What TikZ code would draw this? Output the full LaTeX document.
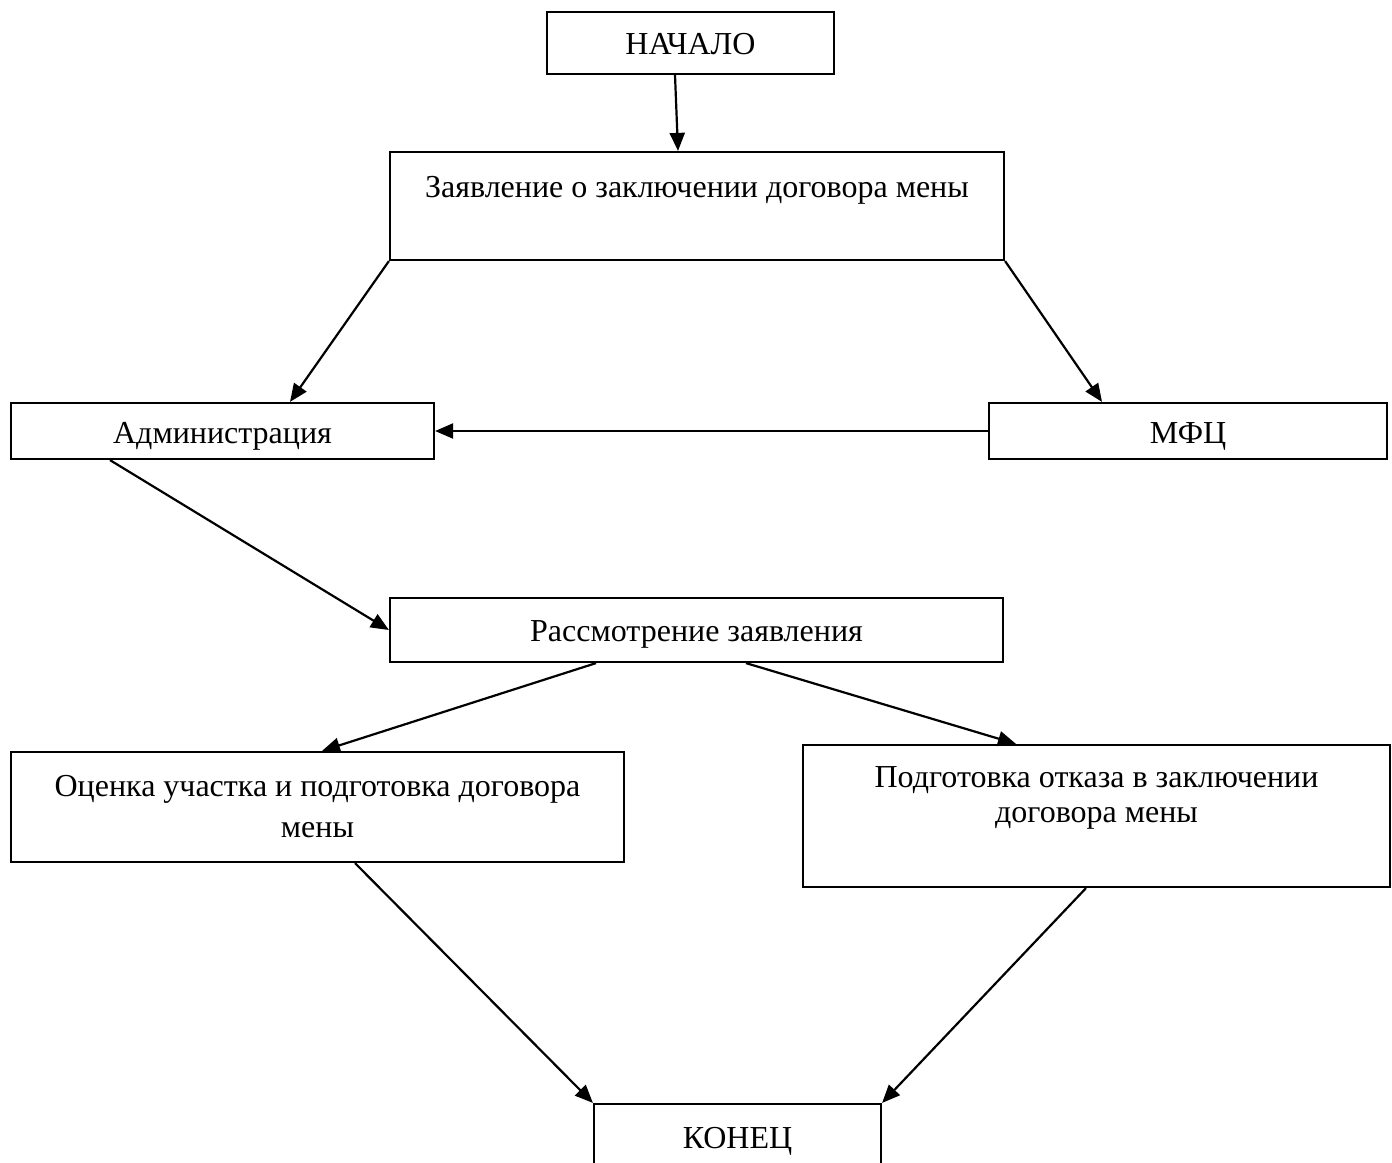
\documentclass[tikz,border=0pt]{standalone}
\usepackage{fontspec}
\setmainfont{Liberation Serif}
\usetikzlibrary{arrows.meta}
\begin{document}
\begin{tikzpicture}[x=0.5pt,y=-0.5pt,
  box/.style={draw,line width=1.1pt,inner sep=0pt,minimum width=#1},
  txt/.style={inner sep=0pt,font=\fontsize{16}{19}\selectfont},
  arr/.style={line width=1.1pt,-{Triangle[length=9pt,width=7.5pt]}}]
\useasboundingbox (0,0) rectangle (1392,1162);
\clip (0,0) rectangle (1392,1162);
\fill[white] (0,0) rectangle (1392,1162);
% boxes
\node[box=143.5pt,minimum height=31pt] (start) at (690.5,43) {};
\node[box=307pt,minimum height=54pt] (zay) at (697,206) {};
\node[box=211.5pt,minimum height=28pt] (adm) at (222.5,431) {};
\node[box=199pt,minimum height=28pt] (mfc) at (1188,431) {};
\node[box=306.5pt,minimum height=32pt] (ras) at (696.5,630) {};
\node[box=306.5pt,minimum height=55pt] (ots) at (317.5,807) {};
\node[box=293.5pt,minimum height=71pt] (otk) at (1096.5,816) {};
\node[box=143.5pt,minimum height=48pt] (end) at (737.5,1152) {};
% texts
\node[txt] (tstart) at (690.5,44) {НАЧАЛО};
\node[txt] (tzay) at (697,190) {Заявление о заключении договора мены};
\node[txt] (tadm) at (222.5,436) {Администрация};
\node[txt] (tmfc) at (1188,436) {МФЦ};
\node[txt] (tras) at (696.5,634) {Рассмотрение заявления};
\node[txt] (tots1) at (317.5,789) {Оценка участка и подготовка договора};
\node[txt] (tots2) at (317.5,830) {мены};
\node[txt] (totk1) at (1096.5,780) {Подготовка отказа в заключении};
\node[txt] (totk2) at (1096.5,818) {договора мены};
\node[txt] (tend) at (737.5,1141) {КОНЕЦ};
% connectors
\draw[arr] ([xshift=-7.75pt]start.south) -- ([xshift=-9.5pt]zay.north);
\draw[arr] (zay.south west) -- ([xshift=33.75pt]adm.north);
\draw[arr] (zay.south east) -- ([xshift=-43pt]mfc.north);
\draw[arr] (mfc.west) -- (adm.east);
\draw[arr] ([xshift=-56.25pt]adm.south) -- (ras.west);
\draw[arr] ([xshift=-50.25pt]ras.south) -- ([xshift=2.25pt]ots.north);
\draw[arr] ([xshift=24.75pt]ras.south) -- ([xshift=-40.25pt]otk.north);
\draw[arr] ([xshift=18.75pt]ots.south) -- (end.north west);
\draw[arr] ([xshift=-5.25pt]otk.south) -- (end.north east);
\end{tikzpicture}
\end{document}
